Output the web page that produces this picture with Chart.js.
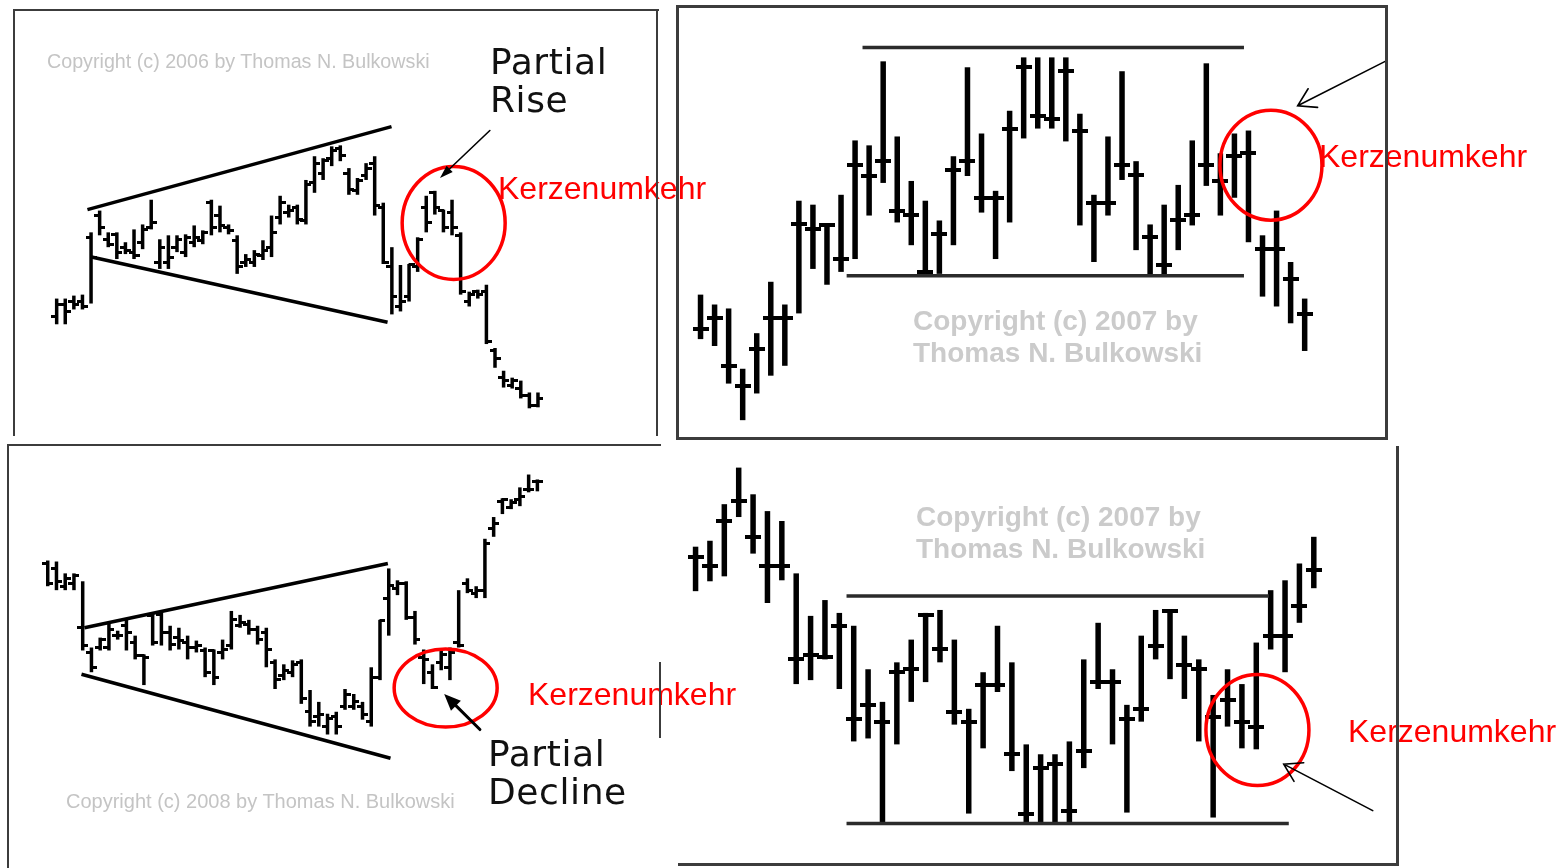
<!DOCTYPE html>
<html>
<head>
<meta charset="utf-8">
<title>Kerzenumkehr – Partial Rise / Partial Decline</title>
<script src="https://cdn.jsdelivr.net/npm/chart.js@4.4.1/dist/chart.umd.min.js"></script>
<style>
html,body{margin:0;padding:0;background:#fff;width:1566px;height:868px;overflow:hidden}
#wrap{position:relative;width:1566px;height:868px}
#c{position:absolute;left:0;top:0}
.b{position:absolute;background:#3c3c3c;z-index:3}
.t{position:absolute;white-space:nowrap;line-height:1;z-index:2}
.kz{font-family:"Liberation Sans",Arial,sans-serif;font-size:32px;color:#ff0000}
.pt{font-family:"DejaVu Sans",Verdana,sans-serif;font-size:36px;color:#111;line-height:38px;letter-spacing:0.6px}
.c1{font-family:"Liberation Sans",Arial,sans-serif;color:#c4c4c4}
.c2{font-family:"Liberation Sans",Arial,sans-serif;font-weight:bold;font-size:28px;color:#cbcbcb;line-height:32px}
</style>
</head>
<body>
<div id="wrap">
  <canvas id="c" width="1566" height="868"></canvas>

  <div class="t c1" style="left:47px;top:52px;font-size:19.7px">Copyright (c) 2006 by Thomas N. Bulkowski</div>
  <div class="t pt" style="left:490px;top:43px">Partial<br>Rise</div>
  <div class="t kz" style="left:498px;top:172px">Kerzenumkehr</div>

  <div class="t c2" style="left:913px;top:305px">Copyright (c) 2007 by<br>Thomas N. Bulkowski</div>
  <div class="t kz" style="left:1319px;top:140px">Kerzenumkehr</div>

  <div class="t c1" style="left:66px;top:791px;font-size:20px">Copyright (c) 2008 by Thomas N. Bulkowski</div>
  <div class="t pt" style="left:488px;top:735px">Partial<br>Decline</div>
  <div class="t kz" style="left:528px;top:678px">Kerzenumkehr</div>

  <div class="t c2" style="left:916px;top:501px">Copyright (c) 2007 by<br>Thomas N. Bulkowski</div>
  <div class="t kz" style="left:1348px;top:715px">Kerzenumkehr</div>

  <!-- panel frames -->
  <div class="b" style="left:13px;top:9px;width:2px;height:427px"></div>
  <div class="b" style="left:13px;top:9px;width:646px;height:2px"></div>
  <div class="b" style="left:656px;top:9px;width:2px;height:427px"></div>

  <div class="b" style="left:676px;top:5px;width:3px;height:435px"></div>
  <div class="b" style="left:676px;top:5px;width:712px;height:3px"></div>
  <div class="b" style="left:1385px;top:5px;width:3px;height:435px"></div>
  <div class="b" style="left:676px;top:437px;width:712px;height:3px"></div>

  <div class="b" style="left:7px;top:444px;width:2px;height:424px"></div>
  <div class="b" style="left:7px;top:444px;width:654px;height:2px"></div>
  <div class="b" style="left:659px;top:662px;width:2px;height:76px"></div>

  <div class="b" style="left:1396px;top:446px;width:3px;height:420px"></div>
  <div class="b" style="left:678px;top:863px;width:721px;height:3px"></div>
</div>
<script>
// ---------- Panel 1: broadening formation, partial rise (57 bars) ----------
const p1High  = [153,153,156,157,220,242,220,220,210,223,228,253,213,217,217,218,227,222,253,247,228,217,198,202,212,237,257,248,248,273,297,295,307,308,285,275,290,297,250,205,187,188,215,257,262,243,253,220,160,162,167,103,80,73,70,58,58];
const p1Low   = [127,127,142,142,148,217,205,193,198,193,203,223,183,183,200,195,205,208,217,220,218,178,185,185,192,195,228,235,228,228,260,273,287,292,258,258,273,237,188,137,140,150,180,220,238,220,217,157,145,153,107,83,63,62,52,42,43];
const p1Open  = [135,147,150,150,215,237,213,218,205,200,210,225,190,190,205,200,210,212,250,237,225,212,190,190,197,205,235,240,245,232,270,280,295,305,280,262,278,290,245,185,145,155,185,245,260,242,240,217,150,160,160,100,73,65,62,55,45];
const p1Close = [147,140,147,145,195,225,208,200,202,197,223,230,205,195,213,215,215,220,225,227,222,185,193,198,202,220,250,242,233,268,290,293,303,298,263,272,285,247,190,155,150,187,213,230,245,225,225,160,157,157,110,92,70,70,55,45,52];
const p1Upper = [[3.58,243],[38.96,327]];
const p1Lower = [[4.05,195],[38.5,129]];

// ---------- Panel 2: rectangle top, Kerzenumkehr (44 bars) ----------
const p2High  = [157,147,143,82,118,170,147,252,248,228,258,313,308,393,317,272,252,232,297,387,320,262,343,397,397,397,397,340,258,317,383,292,228,248,268,313,391,300,320,323,217,242,190,153];
const p2Low   = [112,105,67,30,57,75,85,138,183,167,180,193,237,270,230,207,178,178,207,277,240,193,230,315,325,325,312,227,190,237,273,202,177,177,202,227,267,237,255,210,155,145,128,100];
const p2Open  = [122,133,85,65,102,133,133,228,223,227,193,288,277,292,242,238,180,218,283,292,255,255,325,387,338,335,383,323,250,250,288,278,215,187,233,238,288,272,297,300,203,203,173,137];
const p2Close = [122,133,85,65,102,133,133,228,223,227,193,288,277,292,242,238,180,218,283,292,255,255,325,387,338,335,383,323,250,250,288,278,215,187,233,238,288,272,297,300,203,203,173,137];
const p2Top    = [[11.53,407],[38.68,407]];
const p2Bottom = [[10.4,176],[38.68,176]];

// ---------- Panel 3: broadening formation, partial decline (57 bars) ----------
const p3High  = [338,337,325,325,317,250,260,275,267,278,262,243,285,287,272,270,262,257,250,248,258,287,283,278,272,270,238,233,237,238,207,195,183,185,208,203,195,230,278,330,318,317,287,248,233,247,250,308,320,312,360,382,401,400,412,425,420];
const p3Low   = [312,308,308,308,247,225,247,247,258,247,238,212,252,252,247,248,238,245,220,212,238,248,270,263,253,230,208,217,220,193,170,170,162,162,187,187,177,170,217,262,303,278,253,213,208,227,217,250,305,300,300,362,385,390,393,407,408];
const p3Open  = [335,330,312,315,270,245,250,250,262,272,255,242,282,283,265,260,255,250,247,247,245,252,272,273,268,265,235,222,225,235,185,180,170,180,190,190,190,175,220,300,310,315,280,240,225,235,230,255,315,305,308,370,398,392,400,410,418];
const p3Close = [315,317,320,323,252,230,258,268,262,265,242,240,255,265,253,257,250,252,225,220,248,278,275,268,258,248,218,227,233,198,175,182,178,170,202,195,182,220,277,313,315,280,258,238,210,243,245,252,308,308,355,375,400,397,403,410,418];
const p3Upper = [[4.2,270],[38.9,335]];
const p3Lower = [[3.86,223],[39.2,138]];

// ---------- Panel 4: rectangle bottom, Kerzenumkehr (44 bars) ----------
const p4High  = [352,358,395,432,405,388,378,325,282,298,285,272,228,195,235,258,285,288,258,188,225,272,235,152,142,142,155,238,275,228,192,262,288,288,262,238,202,228,213,255,308,318,335,362];
const p4Low   = [307,317,322,382,345,295,318,213,217,238,208,155,158,72,152,195,215,235,172,82,148,205,125,72,72,72,72,128,208,152,83,175,238,218,198,155,78,170,148,147,248,225,275,310];
const p4Open  = [342,332,378,398,362,332,332,238,242,240,272,178,192,175,225,228,283,248,185,175,212,212,142,82,128,132,85,145,215,215,178,188,252,287,232,228,180,197,175,170,262,262,292,328];
const p4Close = [342,332,378,398,362,332,332,238,242,240,272,178,192,175,225,228,283,248,185,175,212,212,142,82,128,132,85,145,215,215,178,188,252,287,232,228,180,197,175,170,262,262,292,328];
const p4Top    = [[10.5,302],[39.88,302]];
const p4Bottom = [[10.5,72],[41.26,72]];

// ---------- layout (pixel placement of each panel's value axes) ----------
const W = 1566, H = 868;
const layout = {
  p1: {x0: 52,  dx: 8.65,  yBase: 450, barW: 3.5, tickLen: 3.5, tickH: 3},
  p2: {x0: 700, dx: 14.14, yBase: 450, barW: 5.5, tickLen: 5,   tickH: 3.5},
  p3: {x0: 43,  dx: 8.8,   yBase: 900, barW: 3.5, tickLen: 3.5, tickH: 3},
  p4: {x0: 695, dx: 14.47, yBase: 900, barW: 5.5, tickLen: 5,   tickH: 3.5}
};

const ellipses = [
  {p: 1, cx: 46.19, cy: 229.5, rx: 51.5, ry: 56.5},
  {p: 2, cx: 40.6,  cy: 288,   rx: 51,   ry: 55},
  {p: 3, cx: 45.51, cy: 209,   rx: 51.5, ry: 39},
  {p: 4, cx: 39.08, cy: 166.5, rx: 51.5, ry: 55.5}
];
const arrows = [
  {p: 1, from: [50.4, 323], to: [44.6, 275], w: 1.6, head: 14, spread: 0.32, filled: true},
  {p: 2, from: [48.73, 393], to: [42.5, 348], w: 1.6, head: 20, spread: 0.55, filled: false},
  {p: 3, from: [49.43, 167], to: [45.34, 203], w: 3,   head: 18, spread: 0.4,  filled: true},
  {p: 4, from: [47.1, 85],  to: [40.91, 132], w: 1.6, head: 20, spread: 0.55, filled: false}
];

function tickImg(side, st) {
  const c = document.createElement('canvas');
  const half = st.barW / 2 + st.tickLen;
  c.width = Math.round(half * 2);
  c.height = Math.round(st.tickH);
  const g = c.getContext('2d');
  g.fillStyle = '#000';
  if (side === 'L') g.fillRect(0, 0, c.width / 2 + 0.5, c.height);
  else g.fillRect(c.width / 2 - 0.5, 0, c.width / 2 + 0.5, c.height);
  return c;
}

function ohlc(n, high, low, open, close) {
  const st = layout['p' + n];
  const xId = 'x' + n, yId = 'y' + n;
  const idx = high.map((_, i) => i);
  return [
    {type: 'bar', xAxisID: xId, yAxisID: yId,
     data: idx.map(i => ({x: i, y: [low[i], high[i]]})),
     backgroundColor: '#000', borderWidth: 0, barThickness: st.barW,
     grouped: false, inflateAmount: 0, order: 3},
    {type: 'scatter', xAxisID: xId, yAxisID: yId,
     data: idx.map(i => ({x: i, y: open[i]})),
     pointStyle: tickImg('L', st), pointRadius: 2, order: 2},
    {type: 'scatter', xAxisID: xId, yAxisID: yId,
     data: idx.map(i => ({x: i, y: close[i]})),
     pointStyle: tickImg('R', st), pointRadius: 2, order: 2}
  ];
}

function segment(n, pts, color, width) {
  return {type: 'line', xAxisID: 'x' + n, yAxisID: 'y' + n,
    data: pts.map(p => ({x: p[0], y: p[1]})),
    borderColor: color, borderWidth: width, pointRadius: 0, fill: false,
    tension: 0, borderCapStyle: 'butt', order: 1};
}

const scales = {};
[1, 2, 3, 4].forEach(n => {
  const L = layout['p' + n];
  scales['x' + n] = {type: 'linear', axis: 'x', display: false, offset: false,
    min: -L.x0 / L.dx, max: (W - L.x0) / L.dx};
  scales['y' + n] = {type: 'linear', axis: 'y', display: false, offset: false,
    min: L.yBase - H, max: L.yBase};
});

const annotate = {
  id: 'annotate',
  afterDatasetsDraw(chart) {
    const ctx = chart.ctx;
    ellipses.forEach(e => {
      const cx = chart.scales['x' + e.p].getPixelForValue(e.cx);
      const cy = chart.scales['y' + e.p].getPixelForValue(e.cy);
      ctx.save();
      ctx.strokeStyle = '#ff0000';
      ctx.lineWidth = 3.5;
      ctx.beginPath();
      ctx.ellipse(cx, cy, e.rx, e.ry, 0, 0, Math.PI * 2);
      ctx.stroke();
      ctx.restore();
    });
    arrows.forEach(a => {
      const xs = chart.scales['x' + a.p], ys = chart.scales['y' + a.p];
      const x1 = xs.getPixelForValue(a.from[0]), y1 = ys.getPixelForValue(a.from[1]);
      const x2 = xs.getPixelForValue(a.to[0]),   y2 = ys.getPixelForValue(a.to[1]);
      const ang = Math.atan2(y2 - y1, x2 - x1);
      ctx.save();
      ctx.strokeStyle = '#000'; ctx.fillStyle = '#000';
      ctx.lineWidth = a.w; ctx.lineCap = 'round';
      const ax = x2 - Math.cos(ang + a.spread) * a.head, ay = y2 - Math.sin(ang + a.spread) * a.head;
      const bx = x2 - Math.cos(ang - a.spread) * a.head, by = y2 - Math.sin(ang - a.spread) * a.head;
      ctx.beginPath();
      if (a.filled) {
        const ex = x2 - Math.cos(ang) * a.head * 0.8, ey = y2 - Math.sin(ang) * a.head * 0.8;
        ctx.moveTo(x1, y1); ctx.lineTo(ex, ey); ctx.stroke();
        ctx.beginPath();
        ctx.moveTo(x2, y2); ctx.lineTo(ax, ay); ctx.lineTo(bx, by); ctx.closePath(); ctx.fill();
      } else {
        ctx.moveTo(x1, y1); ctx.lineTo(x2, y2);
        ctx.moveTo(ax, ay); ctx.lineTo(x2, y2); ctx.lineTo(bx, by);
        ctx.stroke();
      }
      ctx.restore();
    });
  }
};

new Chart(document.getElementById('c'), {
  type: 'bar',
  data: {
    datasets: [
      ...ohlc(1, p1High, p1Low, p1Open, p1Close),
      segment(1, p1Upper, '#000', 3.5), segment(1, p1Lower, '#000', 3.5),
      ...ohlc(2, p2High, p2Low, p2Open, p2Close),
      segment(2, p2Top, '#2b2b2b', 3.5), segment(2, p2Bottom, '#2b2b2b', 3.5),
      ...ohlc(3, p3High, p3Low, p3Open, p3Close),
      segment(3, p3Upper, '#000', 3.5), segment(3, p3Lower, '#000', 3.5),
      ...ohlc(4, p4High, p4Low, p4Open, p4Close),
      segment(4, p4Top, '#2b2b2b', 3.5), segment(4, p4Bottom, '#2b2b2b', 3.5)
    ]
  },
  options: {
    responsive: false,
    animation: false,
    events: [],
    layout: {padding: 0},
    scales: scales,
    plugins: {legend: {display: false}, tooltip: {enabled: false}, title: {display: false}}
  },
  plugins: [annotate]
});
</script>
</body>
</html>
